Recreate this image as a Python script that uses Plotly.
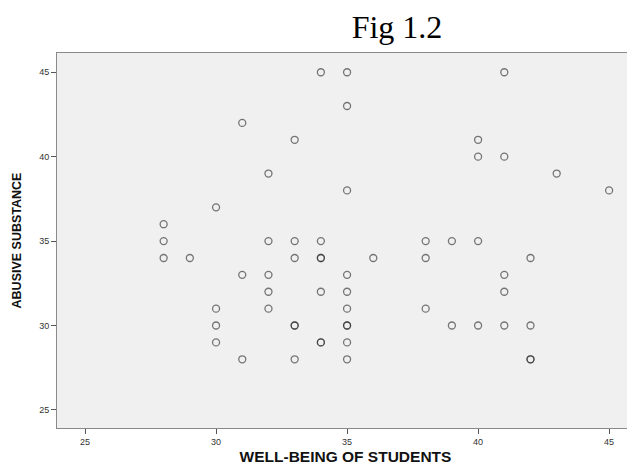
import plotly.graph_objects as go

# WELL-BEING OF STUDENTS (x) vs ABUSIVE SUBSTANCE (y); duplicates repeated
well_being = [28, 28, 28, 29,
              30, 30, 30, 30,
              31, 31, 31,
              32, 32, 32, 32, 32,
              33, 33, 33, 33, 33, 33,
              34, 34, 34, 34, 34, 34, 34,
              35, 35, 35, 35, 35, 35, 35, 35, 35, 35,
              36,
              38, 38, 38,
              39, 39,
              40, 40, 40, 40,
              41, 41, 41, 41, 41,
              42, 42, 42, 42,
              43, 45]
abusive = [36, 35, 34, 34,
           37, 31, 30, 29,
           42, 33, 28,
           39, 35, 33, 32, 31,
           41, 35, 34, 30, 30, 28,
           45, 35, 34, 34, 32, 29, 29,
           45, 43, 38, 33, 32, 31, 30, 30, 29, 28,
           34,
           35, 34, 31,
           35, 30,
           41, 40, 35, 30,
           45, 40, 33, 32, 30,
           34, 30, 28, 28,
           39, 38]

x_ticks = [25, 30, 35, 40, 45]
y_ticks = [25, 30, 35, 40, 45]

W, H = 627, 457  # page adds an 8px body margin

fig = go.Figure()
fig.add_trace(go.Scatter(
    x=well_being, y=abusive, mode="markers",
    marker=dict(symbol="circle-open", size=7,
                color="rgba(40,40,40,0.62)",
                line=dict(width=1.3, color="rgba(40,40,40,0.62)")),
    showlegend=False, hoverinfo="x+y"))

axis_common = dict(
    showgrid=False, zeroline=False, showline=True, mirror=True,
    linecolor="#8a8a8a", linewidth=1, ticks="outside", ticklen=5,
    tickcolor="#555555", tickwidth=1,
    tickfont=dict(family="Liberation Sans, Arial, sans-serif", size=9, color="#333333"),
)

fig.update_xaxes(range=[23.93, 45.95], tickvals=x_ticks,
                 title=dict(text="<b>WELL-BEING OF STUDENTS</b>",
                            font=dict(family="Liberation Sans, Arial, sans-serif", size=15.5, color="#111111"),
                            standoff=11),
                 **axis_common)
fig.update_yaxes(range=[23.93, 46.14], tickvals=y_ticks,
                 title=dict(text="<b>ABUSIVE SUBSTANCE</b>",
                            font=dict(family="Liberation Sans, Arial, sans-serif", size=12.5, color="#111111"),
                            standoff=14),
                 **axis_common)

fig.update_layout(
    width=W, height=H,
    margin=dict(l=49, r=1, t=45, b=37, autoexpand=False),
    paper_bgcolor="white", plot_bgcolor="#f0f0f0",
    title=dict(text="Fig 1.2", x=389/W, xanchor="center", y=1 - 19/H, yanchor="middle",
               font=dict(family="Liberation Serif, Times New Roman, serif", size=32, color="#000000")),
)

fig.write_html("out.html")
